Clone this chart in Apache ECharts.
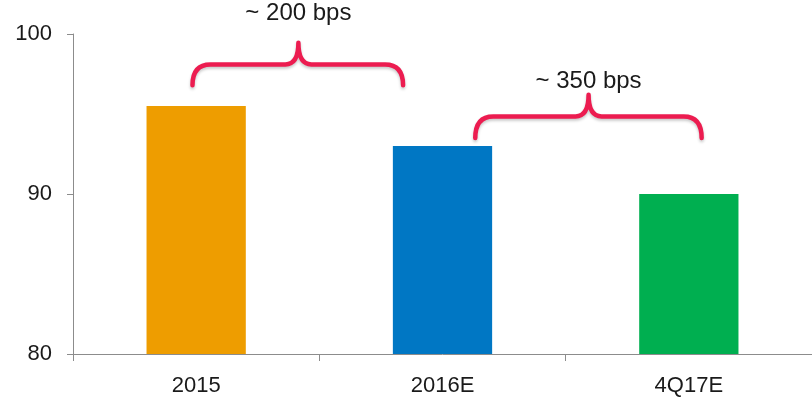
<!DOCTYPE html>
<html>
<head>
<meta charset="utf-8">
<script src="https://cdn.jsdelivr.net/npm/echarts@6/dist/echarts.min.js"></script>
<style>
  html, body { margin: 0; padding: 0; background: #fff; }
  #chart { width: 812px; height: 397px; }
</style>
</head>
<body>
<div id="chart"></div>
<script>
// Period labels and the values plotted for each
const categories = ['2015', '2016E', '4Q17E'];
const values = [95.5, 93.0, 90.0];
const barColors = ['#EE9D00', '#0077C4', '#00AF50'];

// Value axis range and tick step
const yMin = 80;
const yMax = 100;
const yStep = 10;

// Brace annotations: horizontal span in category units, arm tip / bar / peak levels in axis units
const braceLabels = ['~ 200 bps', '~ 350 bps'];
const braceFrom = [-0.015, 1.133];
const braceTo = [0.84, 2.052];
const braceMid = [0.415, 1.593];
const braceArmEnd = [96.8, 93.5];
const braceBar = [98.1, 94.85];
const bracePeak = [99.45, 96.2];
const braceTextLevel = [101.3, 97.05];

const FONT = '"Liberation Sans", Arial, sans-serif';
const chart = echarts.init(document.getElementById('chart'));

// Draws one curly brace and its caption using the grid's coordinate mapping
function renderBrace(params, api) {
  const i = params.dataIndex;
  const c0 = api.coord([0, yMin])[0];
  const band = api.size([1, 0])[0];
  const xAt = f => c0 + f * band;
  const yAt = v => api.coord([0, v])[1];
  const x0 = xAt(braceFrom[i]);
  const x1 = xAt(braceTo[i]);
  const xc = xAt(braceMid[i]);
  const yb = yAt(braceArmEnd[i]);
  const yf = yAt(braceBar[i]);
  const yt = yAt(bracePeak[i]);
  const r = 18;
  const rc = 13;
  const d = [
    'M', x0, yb,
    'Q', x0, yf, x0 + r, yf,
    'L', xc - rc, yf,
    'Q', xc, yf, xc, yt,
    'Q', xc, yf, xc + rc, yf,
    'L', x1 - r, yf,
    'Q', x1, yf, x1, yb
  ].join(' ');
  return {
    type: 'group',
    children: [
      {
        type: 'path',
        shape: { pathData: d },
        style: {
          fill: 'none',
          stroke: '#EC1C50',
          lineWidth: 4.5,
          lineCap: 'round',
          lineJoin: 'round',
          shadowColor: 'rgba(0,0,0,0.22)',
          shadowBlur: 3,
          shadowOffsetY: 2
        }
      },
      {
        type: 'text',
        x: xc,
        y: yAt(braceTextLevel[i]),
        style: {
          text: braceLabels[i],
          fill: '#1a1a1a',
          font: '24px ' + FONT,
          align: 'center',
          verticalAlign: 'middle'
        }
      }
    ]
  };
}

chart.setOption({
  animation: false,
  grid: { left: 73, right: -6, top: 34, bottom: 41 },
  xAxis: {
    type: 'category',
    data: categories,
    axisLine: { lineStyle: { color: '#8C8C8C', width: 1 } },
    axisTick: { show: true, length: 7, lineStyle: { color: '#8C8C8C' } },
    axisLabel: { color: '#1a1a1a', fontSize: 22, fontFamily: FONT, margin: 21 }
  },
  yAxis: {
    type: 'value',
    min: yMin,
    max: yMax,
    interval: yStep,
    splitLine: { show: false },
    axisLine: { show: true, lineStyle: { color: '#8C8C8C', width: 1 } },
    axisTick: { show: true, length: 6, lineStyle: { color: '#8C8C8C' } },
    axisLabel: { color: '#1a1a1a', fontSize: 22, fontFamily: FONT, margin: 21 }
  },
  series: [
    {
      type: 'bar',
      barWidth: '40.3%',
      data: values.map((v, i) => ({ value: v, itemStyle: { color: barColors[i] } }))
    },
    {
      type: 'custom',
      coordinateSystem: 'cartesian2d',
      clip: false,
      silent: true,
      z: 10,
      renderItem: renderBrace,
      data: braceLabels.map((l, i) => [i, yMin])
    }
  ]
});
</script>
</body>
</html>
